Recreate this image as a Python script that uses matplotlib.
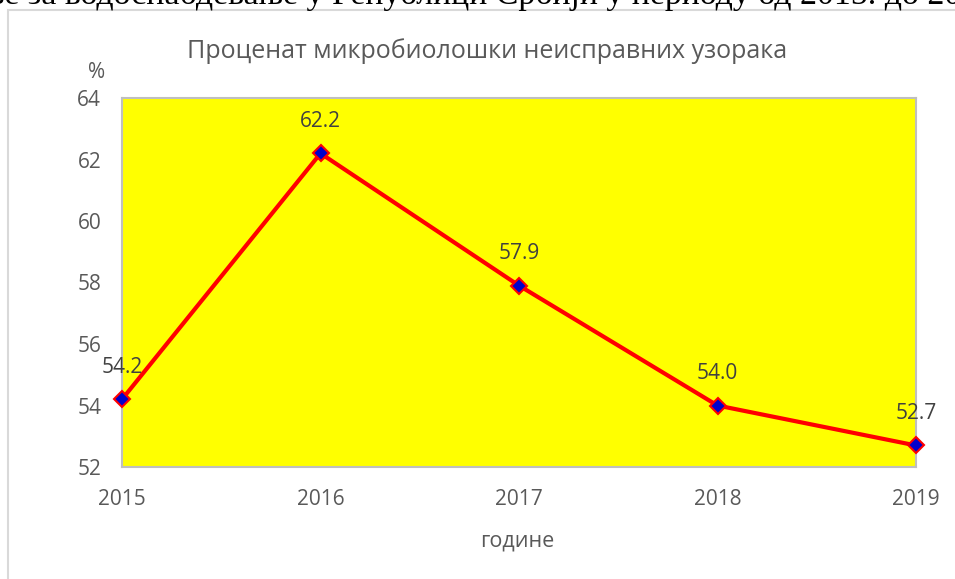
import matplotlib.pyplot as plt
from matplotlib.patches import Rectangle

years = [2015, 2016, 2017, 2018, 2019]
percent = [54.2, 62.2, 57.9, 54.0, 52.7]
yticks = [52, 54, 56, 58, 60, 62, 64]

title = "Проценат микробиолошки неисправних узорака"
header = "ње за водоснабдевање у Републици Србији у периоду од 2015. до 2019."

plt.rcParams['font.family'] = ['Open Sans', 'DejaVu Sans']
grey = "#595959"

fig = plt.figure(figsize=(9.55, 5.79), dpi=100)
W, H = 955, 579

# chart frame from the document (runs off the right and bottom edges)
fig.patches.append(Rectangle((8 / W, -0.2), 1.2, 1.2 - 10 / H, transform=fig.transFigure,
                             fill=False, edgecolor="#d9d9d9", linewidth=1.5))
# cropped document text line above the chart
fig.text(-20 / W, 1 - 4 / H, header, family=['Liberation Serif'], fontsize=24.4,
         color="black", ha="left", va="baseline")

ax = fig.add_axes([122 / W, 1 - 467 / H, (916 - 122) / W, (467 - 98) / H])
ax.set_facecolor("#ffff00")
ax.plot(years, percent, color="red", linewidth=3, marker="D", markersize=8,
        markerfacecolor="#0000cc", markeredgecolor="red", markeredgewidth=1.5,
        clip_on=False, zorder=3)

for x, y in zip(years, percent):
    ax.annotate(f"{y:.1f}", (x, y), xytext=(0, 23), textcoords="offset points",
                ha="center", va="center", fontsize=15, color="#404040")

ax.set_xlim(2015, 2019)
ax.set_ylim(52, 64)
ax.set_xticks(years)
ax.set_yticks(yticks)
ax.tick_params(length=0, labelsize=15, labelcolor=grey)
ax.tick_params(axis="x", pad=16)
ax.tick_params(axis="y", pad=15)
for s in ax.spines.values():
    s.set_color("#bfbfbf")
    s.set_linewidth(1.5)

fig.text(97 / W, 1 - 73 / H, "%", ha="center", va="center", fontsize=15, color=grey)
fig.text(517 / W, 1 - 541 / H, "године", ha="center", va="center", fontsize=15.5, color=grey)
fig.text(487 / W, 1 - 51 / H, title, ha="center", va="center", fontsize=18, color=grey)

fig.savefig("out.png", dpi=100)
